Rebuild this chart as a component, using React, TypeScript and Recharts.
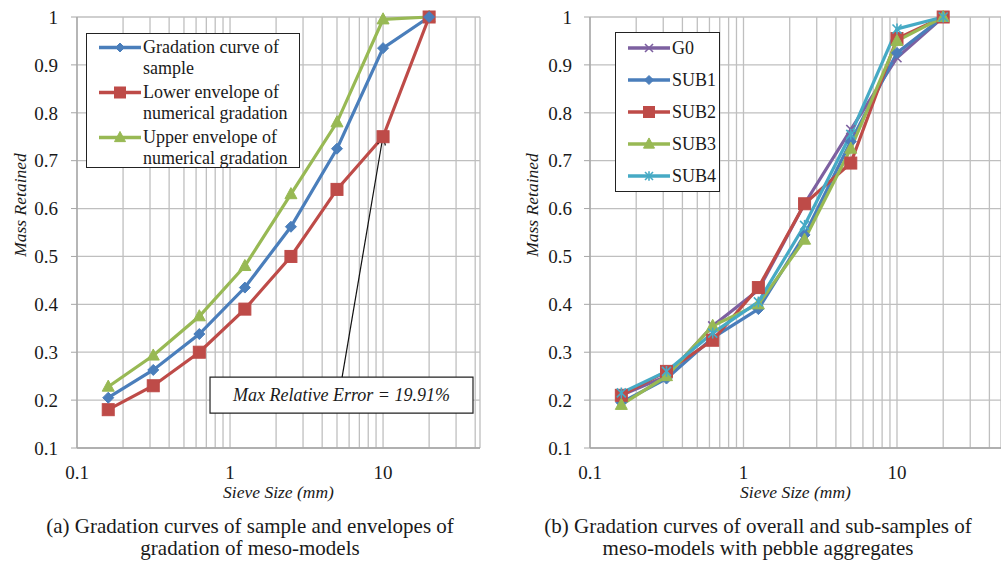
import React from 'react';
import {
  LineChart,
  Line,
  XAxis,
  YAxis,
  CartesianGrid,
  Legend,
  ReferenceArea,
  ReferenceLine,
  Label,
} from 'recharts';

// ---------- data ----------
const sieveSizes = [0.16, 0.315, 0.63, 1.25, 2.5, 5, 10, 20];

// panel (a)
const sampleCurve = [0.205, 0.263, 0.338, 0.435, 0.562, 0.725, 0.935, 1.0];
const lowerEnvelope = [0.18, 0.23, 0.3, 0.39, 0.5, 0.64, 0.75, 1.0];
const upperEnvelope = [0.228, 0.293, 0.375, 0.48, 0.63, 0.78, 0.995, 1.0];

// panel (b)
const g0 = [0.21, 0.25, 0.355, 0.43, 0.61, 0.765, 0.915, 1.0];
const sub1 = [0.195, 0.245, 0.33, 0.39, 0.545, 0.74, 0.925, 1.0];
const sub2 = [0.21, 0.26, 0.325, 0.435, 0.61, 0.695, 0.955, 1.0];
const sub3 = [0.19, 0.25, 0.355, 0.4, 0.535, 0.725, 0.95, 1.0];
const sub4 = [0.215, 0.26, 0.34, 0.405, 0.565, 0.755, 0.975, 1.0];

// axes
const xGridTicks = [
  0.1, 0.2, 0.3, 0.4, 0.5, 0.6, 0.7, 0.8, 0.9,
  1, 2, 3, 4, 5, 6, 7, 8, 9,
  10, 20, 30, 40,
];
const xLabelTicks = [0.1, 1, 10];
const yTicks = [0.1, 0.2, 0.3, 0.4, 0.5, 0.6, 0.7, 0.8, 0.9, 1];

// annotation
const annotationText = 'Max Relative Error = 19.91%';
const annotationBox = { x1: 0.74, x2: 38.7, y1: 0.173, y2: 0.248 };
const annotationArrow = [
  { x: 5.4, y: 0.248 },
  { x: 10, y: 0.752 },
];

// captions
const captionA = ['(a) Gradation curves of sample and envelopes of', 'gradation of meso-models'];
const captionB = ['(b) Gradation curves of overall and sub-samples of', 'meso-models with pebble aggregates'];

// ---------- styles ----------
const FONT = 'Liberation Serif, "DejaVu Serif", serif';
const GRID = '#BFBFBF';
const C_BLUE = '#4A7EBB';
const C_RED = '#BE4B48';
const C_GREEN = '#98B954';
const C_PURPLE = '#7D60A0';
const C_CYAN = '#46AAC5';

const dataA = sieveSizes.map((s, i) => ({
  size: s,
  sample: sampleCurve[i],
  lower: lowerEnvelope[i],
  upper: upperEnvelope[i],
}));

const dataB = sieveSizes.map((s, i) => ({
  size: s,
  g0: g0[i],
  sub1: sub1[i],
  sub2: sub2[i],
  sub3: sub3[i],
  sub4: sub4[i],
}));

type Kind = 'diamond' | 'square' | 'triangle' | 'x' | 'star';

function MarkerShape({ kind, cx, cy, color, s }: { kind: Kind; cx: number; cy: number; color: string; s: number }) {
  switch (kind) {
    case 'diamond':
      return <path d={`M${cx},${cy - s} L${cx + s},${cy} L${cx},${cy + s} L${cx - s},${cy} Z`} fill={color} stroke={color} strokeWidth={1} />;
    case 'square':
      return <rect x={cx - s} y={cy - s} width={2 * s} height={2 * s} fill={color} stroke={color} strokeWidth={1} />;
    case 'triangle':
      return <path d={`M${cx},${cy - s * 1.1} L${cx + s},${cy + s * 0.75} L${cx - s},${cy + s * 0.75} Z`} fill={color} stroke={color} strokeWidth={1} />;
    case 'x':
      return (
        <g stroke={color} strokeWidth={1.6}>
          <line x1={cx - s} y1={cy - s} x2={cx + s} y2={cy + s} />
          <line x1={cx - s} y1={cy + s} x2={cx + s} y2={cy - s} />
        </g>
      );
    case 'star':
      return (
        <g stroke={color} strokeWidth={1.6}>
          <line x1={cx - s} y1={cy - s} x2={cx + s} y2={cy + s} />
          <line x1={cx - s} y1={cy + s} x2={cx + s} y2={cy - s} />
          <line x1={cx} y1={cy - s * 1.2} x2={cx} y2={cy + s * 1.2} />
        </g>
      );
  }
  return null;
}

const makeDot = (kind: Kind, color: string, s: number) => (props: any) => {
  const { cx, cy, index } = props;
  if (cx == null || cy == null) return <g key={`d-${index}`} />;
  return (
    <g key={`d-${kind}-${index}`}>
      <MarkerShape kind={kind} cx={cx} cy={cy} color={color} s={s} />
    </g>
  );
};

type Entry = { name: string[]; color: string; kind: Kind; s: number };

const legendA: Entry[] = [
  { name: ['Gradation curve of', 'sample'], color: C_BLUE, kind: 'diamond', s: 4.5 },
  { name: ['Lower envelope of', 'numerical gradation'], color: C_RED, kind: 'square', s: 5.5 },
  { name: ['Upper envelope of', 'numerical gradation'], color: C_GREEN, kind: 'triangle', s: 5.5 },
];

const legendB: Entry[] = [
  { name: ['G0'], color: C_PURPLE, kind: 'x', s: 4 },
  { name: ['SUB1'], color: C_BLUE, kind: 'diamond', s: 4.5 },
  { name: ['SUB2'], color: C_RED, kind: 'square', s: 5.5 },
  { name: ['SUB3'], color: C_GREEN, kind: 'triangle', s: 5.5 },
  { name: ['SUB4'], color: C_CYAN, kind: 'star', s: 4 },
];

function LegendBox({ entries, rowGap, lineHeight, padTop }: { entries: Entry[]; rowGap: number; lineHeight: number; padTop: number }) {
  return (
    <div
      style={{
        border: '1.5px solid #222',
        background: '#fff',
        boxSizing: 'border-box',
        width: '100%',
        height: '100%',
        paddingTop: padTop,
        paddingLeft: 10,
        fontFamily: FONT,
        fontSize: 18,
        color: '#1a1a1a',
      }}
    >
      {entries.map((e, i) => (
        <div key={i} style={{ display: 'flex', alignItems: 'flex-start', marginBottom: rowGap }}>
          <svg width={46} height={lineHeight} style={{ flex: 'none' }}>
            <line x1={2} y1={lineHeight / 2} x2={44} y2={lineHeight / 2} stroke={e.color} strokeWidth={3.5} />
            <MarkerShape kind={e.kind} cx={23} cy={lineHeight / 2} color={e.color} s={e.s} />
          </svg>
          <div style={{ lineHeight: `${lineHeight}px`, whiteSpace: 'nowrap' }}>
            {e.name.map((n, j) => (
              <div key={j}>{n}</div>
            ))}
          </div>
        </div>
      ))}
    </div>
  );
}

const tickStyle = { fontFamily: FONT, fontSize: 19, fill: '#1a1a1a' };

const xTickFormatter = (v: number) => (xLabelTicks.includes(v) ? String(v) : '');
const yTickFormatter = (v: number) => String(v);

const yTitle = (x: number) => (props: any) => {
  const vb = props.viewBox || { x: 0, y: 0, width: 0, height: 0 };
  const tx = vb.x + x;
  const ty = 205;
  return (
    <text
      x={tx}
      y={ty}
      transform={`rotate(-90, ${tx}, ${ty})`}
      textAnchor="middle"
      dominantBaseline="central"
      style={{ fontFamily: FONT, fontSize: 17.5, fontStyle: 'italic', fill: '#1a1a1a' }}
    >
      Mass Retained
    </text>
  );
};

const arrowShape = (props: any) => {
  const { x1, y1, x2, y2 } = props;
  if ([x1, y1, x2, y2].some((v) => v == null || isNaN(v))) return <g />;
  const ang = Math.atan2(y2 - y1, x2 - x1);
  const L = 10;
  const w = 0.4;
  const ax = x2 - L * Math.cos(ang - w);
  const ay = y2 - L * Math.sin(ang - w);
  const bx = x2 - L * Math.cos(ang + w);
  const by = y2 - L * Math.sin(ang + w);
  return (
    <g stroke="#111" strokeWidth={1.2} fill="none">
      <line x1={x1} y1={y1} x2={x2} y2={y2} />
      <polyline points={`${ax},${ay} ${x2},${y2} ${bx},${by}`} />
    </g>
  );
};

function Caption({ lines, left, width }: { lines: string[]; left: number; width: number }) {
  return (
    <div
      style={{
        position: 'absolute',
        left,
        top: 515,
        width,
        textAlign: 'center',
        fontFamily: FONT,
        fontSize: 21,
        lineHeight: '22px',
        color: '#1a1a1a',
      }}
    >
      {lines.map((l, i) => (
        <div key={i}>{l}</div>
      ))}
    </div>
  );
}

const xTitleStyle = { fontFamily: FONT, fontSize: 17.5, fontStyle: 'italic', fill: '#1a1a1a' };

export default function App() {
  return (
    <div style={{ position: 'absolute', left: 0, top: 0, width: 1001, height: 569, background: '#fff', overflow: 'hidden' }}>
      {/* Panel (a) */}
      <div style={{ position: 'absolute', left: 0, top: 0 }}>
        <LineChart width={490} height={515} data={dataA} margin={{ top: 17, right: 10, left: 0, bottom: 17 }}>
          <CartesianGrid stroke={GRID} strokeWidth={1.3} />
          <XAxis
            dataKey="size"
            type="number"
            scale="log"
            domain={[0.1, 43]}
            allowDataOverflow
            ticks={xGridTicks}
            interval={0}
            tickFormatter={xTickFormatter}
            tick={tickStyle}
            tickLine={false}
            tickMargin={12}
            axisLine={{ stroke: '#A6A6A6', strokeWidth: 1.3 }}
            height={50}
          >
            <Label value="Sieve Size (mm)" position="insideBottom" offset={0} style={xTitleStyle} />
          </XAxis>
          <YAxis
            type="number"
            domain={[0.1, 1]}
            ticks={yTicks}
            interval={0}
            tickFormatter={yTickFormatter}
            tick={tickStyle}
            tickSize={6}
            tickMargin={13}
            tickLine={{ stroke: '#A6A6A6' }}
            axisLine={{ stroke: '#A6A6A6', strokeWidth: 1.3 }}
            width={77}
          >
            <Label content={yTitle(20)} />
          </YAxis>
          <ReferenceArea
            x1={annotationBox.x1}
            x2={annotationBox.x2}
            y1={annotationBox.y1}
            y2={annotationBox.y2}
            fill="#fff"
            fillOpacity={1}
            stroke="#222"
            strokeWidth={1.2}
            ifOverflow="visible"
          >
            <Label value={annotationText} position="center" style={{ fontFamily: FONT, fontSize: 18, fontStyle: 'italic', fill: '#1a1a1a' }} />
          </ReferenceArea>
          <Line dataKey="upper" stroke={C_GREEN} strokeWidth={3.2} dot={makeDot('triangle', C_GREEN, 6)} isAnimationActive={false} />
          <Line dataKey="lower" stroke={C_RED} strokeWidth={3.2} dot={makeDot('square', C_RED, 6)} isAnimationActive={false} />
          <Line dataKey="sample" stroke={C_BLUE} strokeWidth={3.2} dot={makeDot('diamond', C_BLUE, 5.5)} isAnimationActive={false} />
          <ReferenceLine segment={annotationArrow} shape={arrowShape} ifOverflow="visible" />
          <Legend
            layout="vertical"
            align="center"
            verticalAlign="middle"
            wrapperStyle={{ position: 'absolute', left: 86, top: 33, width: 214, height: 135 }}
            content={() => <LegendBox entries={legendA} rowGap={3} lineHeight={21} padTop={3} />}
          />
        </LineChart>
      </div>

      {/* Panel (b) */}
      <div style={{ position: 'absolute', left: 500, top: 0 }}>
        <LineChart width={501} height={515} data={dataB} margin={{ top: 17, right: 0, left: 0, bottom: 17 }}>
          <CartesianGrid stroke={GRID} strokeWidth={1.3} />
          <XAxis
            dataKey="size"
            type="number"
            scale="log"
            domain={[0.1, 47.6]}
            allowDataOverflow
            ticks={xGridTicks}
            interval={0}
            tickFormatter={xTickFormatter}
            tick={tickStyle}
            tickLine={false}
            tickMargin={12}
            axisLine={{ stroke: '#A6A6A6', strokeWidth: 1.3 }}
            height={50}
          >
            <Label value="Sieve Size (mm)" position="insideBottom" offset={0} style={xTitleStyle} />
          </XAxis>
          <YAxis
            type="number"
            domain={[0.1, 1]}
            ticks={yTicks}
            interval={0}
            tickFormatter={yTickFormatter}
            tick={tickStyle}
            tickSize={6}
            tickMargin={12}
            tickLine={{ stroke: '#A6A6A6' }}
            axisLine={{ stroke: '#A6A6A6', strokeWidth: 1.3 }}
            width={90}
          >
            <Label content={yTitle(32)} />
          </YAxis>
          <Line dataKey="g0" stroke={C_PURPLE} strokeWidth={3.2} dot={makeDot('x', C_PURPLE, 4.5)} isAnimationActive={false} />
          <Line dataKey="sub1" stroke={C_BLUE} strokeWidth={3.2} dot={makeDot('diamond', C_BLUE, 5.5)} isAnimationActive={false} />
          <Line dataKey="sub2" stroke={C_RED} strokeWidth={3.2} dot={makeDot('square', C_RED, 6)} isAnimationActive={false} />
          <Line dataKey="sub3" stroke={C_GREEN} strokeWidth={3.2} dot={makeDot('triangle', C_GREEN, 6)} isAnimationActive={false} />
          <Line dataKey="sub4" stroke={C_CYAN} strokeWidth={3.2} dot={makeDot('star', C_CYAN, 4.5)} isAnimationActive={false} />
          <Legend
            layout="vertical"
            align="center"
            verticalAlign="middle"
            wrapperStyle={{ position: 'absolute', left: 115, top: 32, width: 105, height: 160 }}
            content={() => <LegendBox entries={legendB} rowGap={10} lineHeight={22} padTop={4} />}
          />
        </LineChart>
      </div>

      <Caption lines={captionA} left={0} width={500} />
      <Caption lines={captionB} left={508} width={500} />
    </div>
  );
}
